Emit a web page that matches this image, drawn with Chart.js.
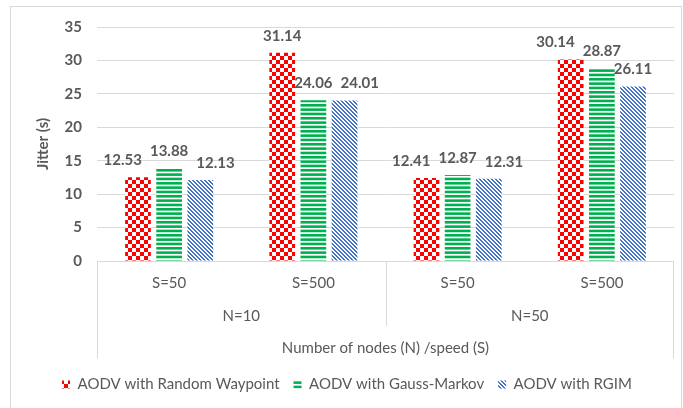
<!DOCTYPE html>
<html lang="en">
<head>
    <meta charset="UTF-8">
    <title>Jitter by nodes / speed</title>
    <style>
        html, body {
            margin: 0;
            padding: 0;
            background: #ffffff;
        }
        #wrap {
            position: relative;
            width: 683px;
            height: 408px;
        }
    </style>
</head>
<body>
    <div id="wrap"><canvas id="jitterChart"></canvas></div>
    <script src="https://cdn.jsdelivr.net/npm/chart.js"></script>
    <script>
        // Data
        const speedLabels = ['S=50', 'S=500', 'S=50', 'S=500'];
        const nodeLabels = ['N=10', 'N=50'];
        const yTicks = [0, 5, 10, 15, 20, 25, 30, 35];
        const seriesNames = ['AODV with Random Waypoint', 'AODV with Gauss-Markov', 'AODV with RGIM'];
        const randomWaypoint = [12.53, 31.14, 12.41, 30.14];
        const gaussMarkov = [13.88, 24.06, 12.87, 28.87];
        const rgim = [12.13, 24.01, 12.31, 26.11];

        const TEXT = '#595959';
        const LINE = '#d9d9d9';
        Chart.defaults.font.family = 'Lato, "Liberation Sans", sans-serif';
        Chart.defaults.color = TEXT;

        const canvas = document.getElementById('jitterChart');
        const ctx = canvas.getContext('2d');

        // small tiles used as fill patterns
        function tile(w, h, draw) {
            const c = document.createElement('canvas');
            c.width = w;
            c.height = h;
            const g = c.getContext('2d');
            g.fillStyle = '#ffffff';
            g.fillRect(0, 0, w, h);
            draw(g);
            return ctx.createPattern(c, 'repeat');
        }

        const checkerRed = tile(8, 8, g => {
            g.fillStyle = '#ff0000';
            g.fillRect(0, 0, 4, 4);
            g.fillRect(4, 4, 4, 4);
        });
        const stripesGreen = tile(4, 13, g => {
            g.fillStyle = '#00b050';
            for (let i = 0; i < 3; i++) g.fillRect(0, i * 13 / 3, 4, 2.6);
        });
        const diagBlue = tile(4, 4, g => {
            g.fillStyle = '#4472c4';
            for (let y = 0; y < 4; y++) {
                g.fillRect(y, y, 1, 1);
                g.fillRect((y + 1) % 4, y, 1, 1);
            }
        });

        // value labels above each bar; side labels are nudged away from the
        // middle one when they would collide (like the spreadsheet does)
        const valueLabels = {
            id: 'valueLabels',
            afterDatasetsDraw(chart) {
                const c = chart.ctx;
                const gap = 8;
                c.save();
                c.font = 'bold 15px Lato, "Liberation Sans", sans-serif';
                c.fillStyle = TEXT;
                c.textAlign = 'center';
                c.textBaseline = 'middle';
                const n = chart.data.labels.length;
                for (let j = 0; j < n; j++) {
                    const items = chart.data.datasets.map((ds, i) => {
                        const bar = chart.getDatasetMeta(i).data[j];
                        const text = ds.data[j].toFixed(2);
                        return { text, x: bar.x, y: bar.y - 17, w: c.measureText(text).width };
                    });
                    const mid = items[1];
                    const l = items[0], r = items[2];
                    if (Math.abs(l.y - mid.y) < 13 && l.x + l.w / 2 + gap > mid.x - mid.w / 2) {
                        l.x = mid.x - mid.w / 2 - gap - l.w / 2;
                    }
                    if (Math.abs(r.y - mid.y) < 13 && r.x - r.w / 2 - gap < mid.x + mid.w / 2) {
                        r.x = mid.x + mid.w / 2 + gap + r.w / 2;
                    }
                    items.forEach(it => c.fillText(it.text, it.x, it.y));
                }
                c.restore();
            }
        };

        // outer frame + the lines of the two-level category table
        const axisTable = {
            id: 'axisTable',
            afterDraw(chart) {
                const c = chart.ctx;
                const a = chart.chartArea;
                const x2 = chart.scales.x2;
                const mid = Math.round((x2.getPixelForValue(0) + x2.getPixelForValue(1)) / 2) + 0.5;
                const left = Math.round(a.left) + 0.5;
                const right = Math.round(a.right) - 0.5;
                const bottom = Math.round(a.bottom) + 0.5;
                c.save();
                c.strokeStyle = LINE;
                c.lineWidth = 1;
                c.strokeRect(10.5, 6.5, 671, 420);
                c.beginPath();
                c.moveTo(left, bottom);
                c.lineTo(right, bottom);
                c.moveTo(left, bottom);
                c.lineTo(left, x2.bottom - 5);
                c.moveTo(right, bottom);
                c.lineTo(right, x2.bottom - 5);
                c.moveTo(mid, bottom);
                c.lineTo(mid, x2.top + 25);
                c.stroke();
                c.restore();
            }
        };

        new Chart(ctx, {
            type: 'bar',
            data: {
                labels: speedLabels,
                datasets: [
                    { label: seriesNames[0], data: randomWaypoint, backgroundColor: checkerRed },
                    { label: seriesNames[1], data: gaussMarkov, backgroundColor: stripesGreen },
                    { label: seriesNames[2], data: rgim, backgroundColor: diagBlue }
                ]
            },
            options: {
                responsive: true,
                maintainAspectRatio: false,
                animation: false,
                datasets: {
                    bar: {
                        categoryPercentage: 0.648,
                        barPercentage: 0.825,
                        borderWidth: 0
                    }
                },
                layout: {
                    padding: { top: 27, left: 20, right: 9, bottom: 6 }
                },
                plugins: {
                    tooltip: { enabled: false },
                    legend: {
                        position: 'bottom',
                        labels: {
                            boxWidth: 8,
                            boxHeight: 8,
                            padding: 14,
                            color: TEXT,
                            font: { size: 15 }
                        }
                    }
                },
                scales: {
                    y: {
                        min: 0,
                        max: 35,
                        afterBuildTicks: s => { s.ticks = yTicks.map(v => ({ value: v })); },
                        afterFit: s => { s.width = 77; },
                        grid: { color: LINE, drawTicks: false },
                        border: { display: false },
                        ticks: {
                            padding: 15,
                            color: TEXT,
                            font: { size: 15, weight: 'bold' }
                        },
                        title: {
                            display: true,
                            text: 'Jitter (s)',
                            color: TEXT,
                            font: { size: 15, weight: 'bold' },
                            padding: { top: 14, bottom: 0 }
                        }
                    },
                    x: {
                        weight: 1,
                        afterFit: s => { s.height = 40; },
                        grid: { display: false, drawTicks: false },
                        border: { display: false },
                        ticks: {
                            padding: 13,
                            color: TEXT,
                            maxRotation: 0,
                            font: { size: 15 }
                        }
                    },
                    x2: {
                        type: 'category',
                        position: 'bottom',
                        weight: 2,
                        labels: nodeLabels,
                        offset: true,
                        afterFit: s => { s.height = 62; },
                        grid: { display: false, drawTicks: false },
                        border: { display: false },
                        ticks: {
                            padding: 6,
                            color: TEXT,
                            maxRotation: 0,
                            font: { size: 15 }
                        },
                        title: {
                            display: true,
                            text: 'Number of nodes (N) /speed (S)',
                            color: TEXT,
                            font: { size: 15 },
                            padding: { top: 0, bottom: 6 }
                        }
                    }
                }
            },
            plugins: [valueLabels, axisTable]
        });
    </script>
</body>
</html>
